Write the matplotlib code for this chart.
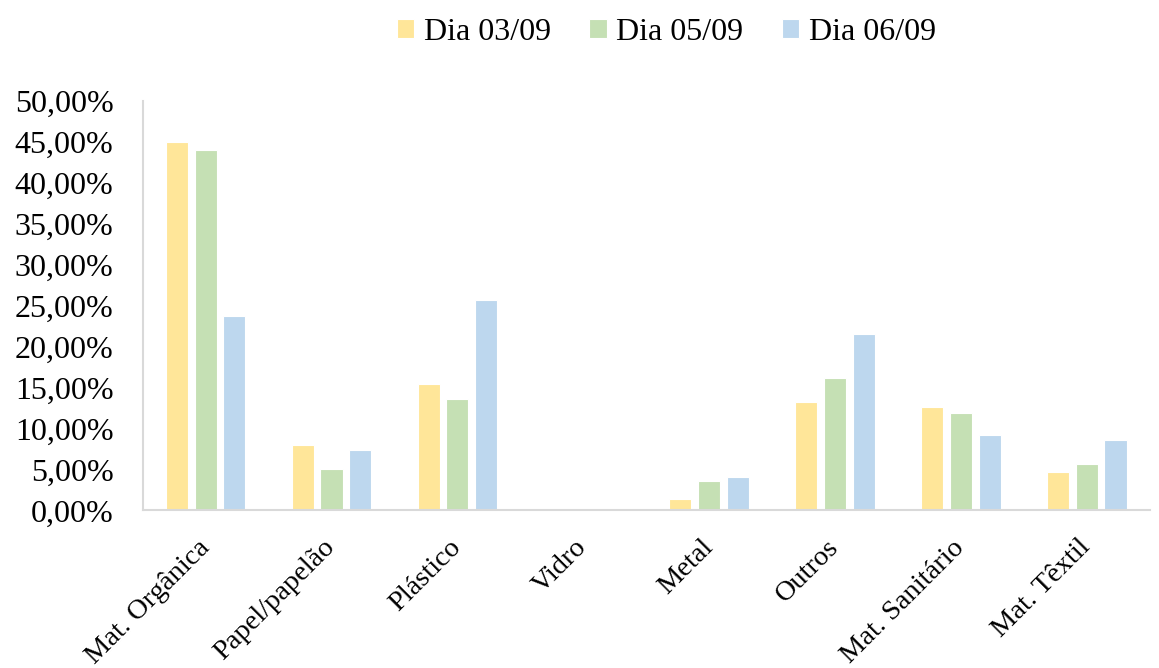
import numpy as np
import matplotlib
matplotlib.use("Agg")
import matplotlib.pyplot as plt
from matplotlib.ticker import FuncFormatter

categories = ["Mat. Orgânica", "Papel/papelão", "Plástico", "Vidro", "Metal",
              "Outros", "Mat. Sanitário", "Mat. Têxtil"]
series_names = ["Dia 03/09", "Dia 05/09", "Dia 06/09"]
dia_03 = [44.96, 8.00, 15.40, 0.0, 1.37, 13.25, 12.67, 4.70]
dia_05 = [43.98, 5.07, 13.65, 0.0, 3.57, 16.14, 11.87, 5.68]
dia_06 = [23.78, 7.43, 25.70, 0.0, 4.13, 21.60, 9.18, 8.57]
colors = ["#FFE699", "#C5E0B4", "#BDD7EE"]

plt.rcParams["font.family"] = ["Liberation Serif", "DejaVu Serif"]

fig = plt.figure(figsize=(11.59, 6.68), dpi=100)
ax = fig.add_axes([0.1231, 0.2358, 0.8689, 0.6130])

x = np.arange(len(categories))
width = 0.175
step = 0.228
for i, (vals, name, c) in enumerate(zip([dia_03, dia_05, dia_06], series_names, colors)):
    ax.bar(x + (i - 1) * step, vals, width, color=c, edgecolor="white",
           linewidth=0.8, label=name, zorder=2)

ax.set_xlim(-0.5, len(categories) - 0.5)
ax.set_ylim(0, 50)
ax.set_yticks(np.arange(0, 51, 5))
ax.yaxis.set_major_formatter(FuncFormatter(lambda v, p: f"{v:.2f}%".replace(".", ",")))

for s in ["top", "right"]:
    ax.spines[s].set_visible(False)
for s in ["left", "bottom"]:
    ax.spines[s].set_color("#D9D9D9")
    ax.spines[s].set_linewidth(1.5)

ax.tick_params(axis="y", length=0, labelsize=23, pad=21, colors="black")
ax.tick_params(axis="x", length=0, labelsize=20.5, pad=24)
ax.set_xticks(x)
ax.set_xticklabels(categories, rotation=45, ha="right", va="center",
                   rotation_mode="anchor")

fig.legend(loc="center", bbox_to_anchor=(0.575, 0.952), ncol=3, frameon=False,
           fontsize=23, handlelength=0.55, handleheight=0.55, handletextpad=0.3,
           columnspacing=1.2)

fig.savefig("out.png", dpi=100)
